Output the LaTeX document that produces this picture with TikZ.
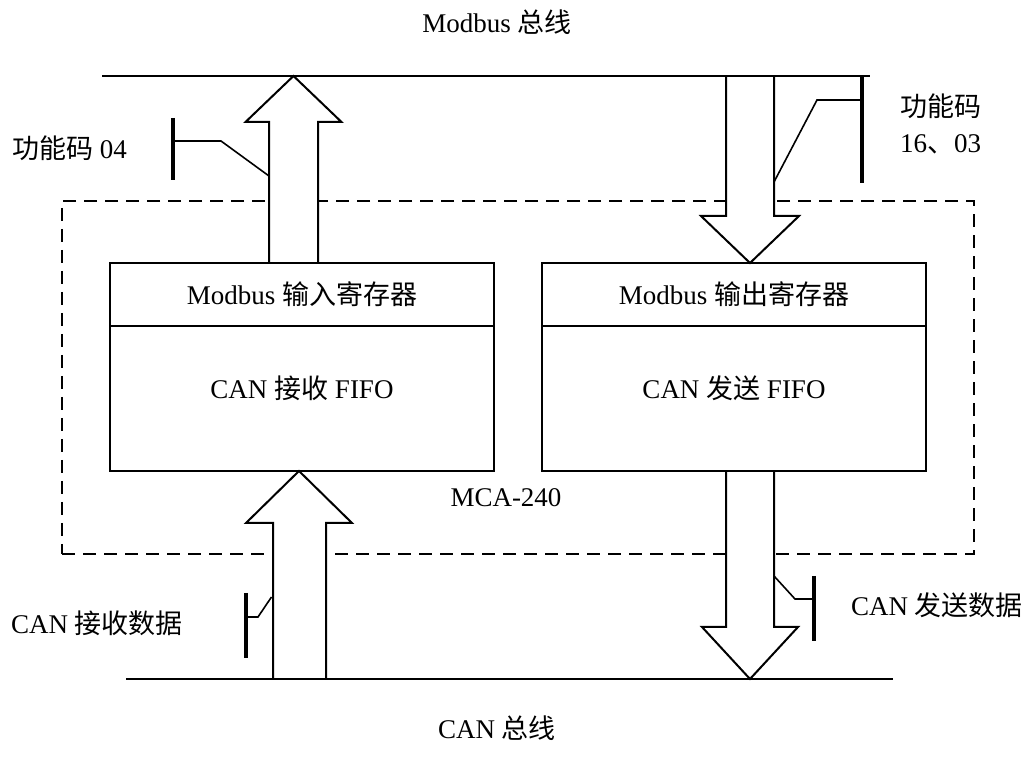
\documentclass[tikz,border=0pt]{standalone}
\usepackage{fontspec}
\setmainfont{Liberation Serif}
\newfontfamily\cjk{Noto Sans CJK SC}
\newcommand{\hanzi}[1]{{\cjk #1}}
\usetikzlibrary{positioning, calc, backgrounds}

\begin{document}
\begin{tikzpicture}[
    x=0.5pt, y=-0.5pt,
    every node/.style={font=\fontsize{13.5}{18}\selectfont, inner sep=0pt, outer sep=0pt},
    regbox/.style={draw, line width=1pt, minimum width=192pt, minimum height=31.5pt},
    fifobox/.style={draw, line width=1pt, minimum width=192pt, minimum height=72.5pt},
    frame/.style={draw, line width=1pt, dash pattern=on 6.5pt off 4pt, minimum width=456pt, minimum height=176.5pt},
    bus/.style={line width=1pt},
    blockarrow/.style={draw, fill=white, line width=1pt, line join=miter},
    tag/.style={line width=1.6pt},
    leader/.style={line width=0.8pt},
]
\useasboundingbox (0,0) rectangle (1029,780);
% register boxes and FIFOs
\node[regbox] (inreg) at (302,294.5) {Modbus \hanzi{输入寄存器}};
\node[fifobox, below=0pt of inreg] (rxfifo) {};
\node (rxtext) at ([yshift=5pt]rxfifo.center) {CAN \hanzi{接收} FIFO};
\node[regbox] (outreg) at (734,294.5) {Modbus \hanzi{输出寄存器}};
\node[fifobox, below=0pt of outreg] (txfifo) {};
\node (txtext) at ([yshift=5pt]txfifo.center) {CAN \hanzi{发送} FIFO};
% bus end points
\coordinate (mbL) at (102,76);
\coordinate (mbR) at (870,76);
\coordinate (canL) at (126,679);
\coordinate (canR) at (893,679);
\coordinate (upA) at ([xshift=-4.25pt]inreg.north);
\coordinate (tipA) at (upA |- mbL);
\coordinate (tipB) at ([xshift=8pt]outreg.north);
\coordinate (upB) at (tipB |- mbL);
\coordinate (tipC) at ([xshift=-1.5pt]rxfifo.south);
\coordinate (upC) at ([xshift=0.25pt]tipC |- canL);
\coordinate (upD) at ([xshift=8pt]txfifo.south);
\coordinate (tipD) at (upD |- canL);
\begin{scope}[on background layer]
% MCA-240 dashed frame
\node[frame] (mca) at (518,377.5) {};
% block arrows
\draw[blockarrow] ($(upA)+(-24.5,0)$) |- ($(tipA)+(-48,46)$) -- (tipA)
    -- ($(tipA)+(48,46)$) -| ($(upA)+(24.5,0)$);
\draw[blockarrow] ($(upB)+(-24,0)$) |- ($(tipB)+(-49,-47)$) -- (tipB)
    -- ($(tipB)+(49,-47)$) -| ($(upB)+(24,0)$);
\draw[blockarrow] ($(upC)+(-26.5,0)$) |- ($(tipC)+(-53,52)$) -- (tipC)
    -- ($(tipC)+(53,52)$) -| ($(upC)+(26.5,0)$);
\draw[blockarrow] ($(upD)+(-24,0)$) |- ($(tipD)+(-48,-52)$) -- (tipD)
    -- ($(tipD)+(48,-52)$) -| ($(upD)+(24,0)$);
\end{scope}
% buses
\draw[bus] (mbL) -- (mbR);
\draw[bus] (canL) -- (canR);
% function code tags
\coordinate (fc04) at (173,141);
\draw[tag] (173,118) -- (173,180);
\draw[leader] (fc04) -- ++(48,0) -- ($(upA)+(-24.5,-87)$);
\coordinate (fc16) at (862,100);
\draw[tag] (862,76) -- (862,183);
\draw[leader] (fc16) -- ++(-45,0) -- ($(upB)+(24,106)$);
\coordinate (rxtag) at (246,617);
\draw[tag] (246,593) -- (246,658);
\draw[leader] (rxtag) -- ++(12,0) -- ($(upC)+(-28,-82)$);
\coordinate (txtag) at (814,599);
\draw[tag] (814,576) -- (814,641);
\draw[leader] (txtag) -- ++(-19,0) -- ($(upD)+(24,105)$);
% labels
\node (mbbus) at (497,22) {Modbus \hanzi{总线}};
\node (canbus) at (497,728) {CAN \hanzi{总线}};
\node (mcalbl) at (506,498) {MCA-240};
\node[anchor=west] (lbl04) at (12,148) {\hanzi{功能码} 04};
\node[anchor=west, align=left] (lbl16) at (900,124) {\hanzi{功能码}\\16\hanzi{、}03};
\node[anchor=west] (lblrx) at (11,623) {CAN \hanzi{接收数据}};
\node[anchor=west] (lbltx) at (851,605) {CAN \hanzi{发送数据}};
\end{tikzpicture}
\end{document}
